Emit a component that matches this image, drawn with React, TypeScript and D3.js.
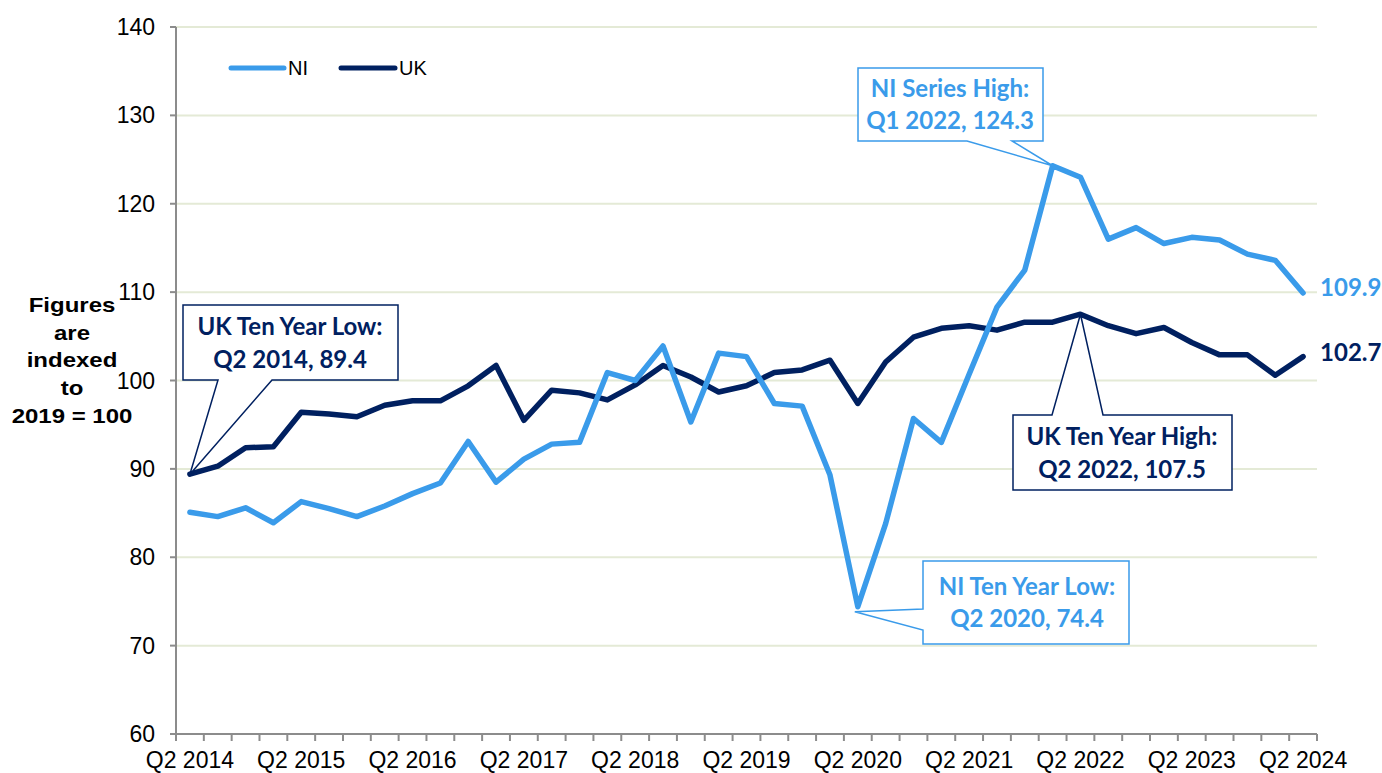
import React from "react";
import * as d3 from "d3";

const quarters = [
  "Q2 2014","Q3 2014","Q4 2014","Q1 2015","Q2 2015","Q3 2015","Q4 2015","Q1 2016",
  "Q2 2016","Q3 2016","Q4 2016","Q1 2017","Q2 2017","Q3 2017","Q4 2017","Q1 2018",
  "Q2 2018","Q3 2018","Q4 2018","Q1 2019","Q2 2019","Q3 2019","Q4 2019","Q1 2020",
  "Q2 2020","Q3 2020","Q4 2020","Q1 2021","Q2 2021","Q3 2021","Q4 2021","Q1 2022",
  "Q2 2022","Q3 2022","Q4 2022","Q1 2023","Q2 2023","Q3 2023","Q4 2023","Q1 2024",
  "Q2 2024",
];

const niValues = [
  85.1, 84.6, 85.6, 83.9, 86.3, 85.5, 84.6, 85.8,
  87.2, 88.4, 93.1, 88.5, 91.1, 92.8, 93.0, 100.9,
  100.0, 103.9, 95.3, 103.1, 102.7, 97.4, 97.1, 89.3,
  74.4, 83.8, 95.7, 93.0, 100.7, 108.3, 112.5, 124.3,
  123.0, 116.0, 117.3, 115.5, 116.2, 115.9, 114.3, 113.6,
  109.9,
];

const ukValues = [
  89.4, 90.3, 92.4, 92.5, 96.4, 96.2, 95.9, 97.2,
  97.7, 97.7, 99.4, 101.7, 95.5, 98.9, 98.6, 97.8,
  99.5, 101.7, 100.4, 98.7, 99.4, 100.9, 101.2, 102.3,
  97.4, 102.1, 104.9, 105.9, 106.2, 105.7, 106.6, 106.6,
  107.5, 106.2, 105.3, 106.0, 104.3, 102.9, 102.9, 100.6,
  102.7,
];

const yTicks = [60, 70, 80, 90, 100, 110, 120, 130, 140];
const xLabelQuarters = ["Q2 2014","Q2 2015","Q2 2016","Q2 2017","Q2 2018","Q2 2019","Q2 2020","Q2 2021","Q2 2022","Q2 2023","Q2 2024"];
const yTitleLines = ["Figures", "are", "indexed", "to", "2019 = 100"];

const NI_COLOR = "#3A9BEA";
const UK_COLOR = "#002060";
const GRID = "#E4EAD6";
const AXIS = "#8C8C8C";

export default function App() {
  const W = 1382, H = 773;
  const left = 176, right = 1317, top = 27, bottom = 734;

  const x = d3.scaleBand<string>().domain(quarters).range([left, right]).padding(0);
  const y = d3.scaleLinear().domain([60, 140]).range([bottom, top]);
  const cx = (q: string) => (x(q) as number) + x.bandwidth() / 2;

  const lineGen = d3
    .line<number>()
    .x((_, i) => cx(quarters[i]))
    .y((d) => y(d));

  const tickXs = quarters.map((q) => x(q) as number).concat([right]);

  const bodyFont = "'Liberation Sans', Arial, sans-serif";
  const calloutFont = "Lato, 'Open Sans', sans-serif";
  const cfs = 24;

  const tipUKLow = [cx("Q2 2014"), y(89.4)];
  const tipNIHigh = [cx("Q1 2022"), y(124.3)];
  const tipNILow = [cx("Q2 2020") - 3, y(74.4) + 5];
  const tipUKHigh = [cx("Q2 2022"), y(107.5)];

  const pUKLow = `M183,305 H398 V380 H272 L${tipUKLow[0]},${tipUKLow[1]} L218,380 H183 Z`;
  const pNIHigh = `M858,68 H1043 V141 H1012 L${tipNIHigh[0]},${tipNIHigh[1]} L967,141 H858 Z`;
  const pNILow = `M923,561 H1129 V644 H923 V630 L${tipNILow[0]},${tipNILow[1]} L923,609 Z`;
  const pUKHigh = `M1013,415 H1052 L${tipUKHigh[0]},${tipUKHigh[1]} L1103,415 H1232 V490 H1013 Z`;

  const lastNI = niValues[niValues.length - 1];
  const lastUK = ukValues[ukValues.length - 1];
  const lastX = cx(quarters[quarters.length - 1]);

  const callText = (tx: number, ty: number, s: string, color: string) => (
    <text x={tx} y={ty} textAnchor="middle" fontFamily={calloutFont} fontWeight={700} fontSize={cfs} fill={color}>
      {s}
    </text>
  );

  return (
    <svg
      width={W}
      height={H}
      style={{ position: "absolute", left: 0, top: 0, background: "#fff" }}
    >
      {yTicks.filter((t) => t !== 60).map((t) => (
        <line key={"g" + t} x1={left} x2={right} y1={y(t)} y2={y(t)} stroke={GRID} strokeWidth={2} />
      ))}

      <line x1={left} x2={left} y1={top} y2={bottom} stroke={AXIS} strokeWidth={2} />
      {yTicks.map((t) => (
        <g key={"yt" + t}>
          <line x1={left - 6} x2={left} y1={y(t)} y2={y(t)} stroke={AXIS} strokeWidth={2} />
          <text x={155} y={y(t) + 8} textAnchor="end" fontFamily={bodyFont} fontSize={23} fill="#000">
            {t}
          </text>
        </g>
      ))}

      <line x1={left} x2={right} y1={bottom} y2={bottom} stroke={AXIS} strokeWidth={2} />
      {tickXs.map((tx, i) => (
        <line key={"xt" + i} x1={tx} x2={tx} y1={bottom} y2={bottom + 7} stroke={AXIS} strokeWidth={2} />
      ))}
      {xLabelQuarters.map((q) => (
        <text key={"xl" + q} x={cx(q)} y={768} textAnchor="middle" fontFamily={bodyFont} fontSize={23} fill="#000">
          {q}
        </text>
      ))}

      {yTitleLines.map((l, i) => (
        <text
          key={"yl" + i}
          transform={`translate(72,${312 + i * 27.7}) scale(1.17,1)`}
          textAnchor="middle"
          fontFamily={bodyFont}
          fontWeight="bold"
          fontSize={20.5}
          fill="#000"
        >
          {l}
        </text>
      ))}

      <line x1={231} x2={284} y1={68} y2={68} stroke={NI_COLOR} strokeWidth={5} strokeLinecap="round" />
      <text x={288} y={75} fontFamily={bodyFont} fontSize={20} fill="#000">NI</text>
      <line x1={341} x2={395} y1={68} y2={68} stroke={UK_COLOR} strokeWidth={5} strokeLinecap="round" />
      <text x={399} y={75} fontFamily={bodyFont} fontSize={20} fill="#000">UK</text>

      <path d={lineGen(ukValues) as string} fill="none" stroke={UK_COLOR} strokeWidth={5.5} strokeLinejoin="round" strokeLinecap="round" />
      <path d={lineGen(niValues) as string} fill="none" stroke={NI_COLOR} strokeWidth={5.5} strokeLinejoin="round" strokeLinecap="round" />

      <text x={lastX + 17} y={y(lastNI) + 3} fontFamily={calloutFont} fontWeight={700} fontSize={24} fill={NI_COLOR}>
        {lastNI.toFixed(1)}
      </text>
      <text x={lastX + 17} y={y(lastUK) + 4} fontFamily={calloutFont} fontWeight={700} fontSize={24} fill={UK_COLOR}>
        {lastUK.toFixed(1)}
      </text>

      <path d={pUKLow} fill="#fff" stroke={UK_COLOR} strokeWidth={1.5} />
      {callText(290, 335, "UK Ten Year Low:", UK_COLOR)}
      {callText(290, 368, "Q2 2014, 89.4", UK_COLOR)}

      <path d={pNIHigh} fill="#fff" stroke={NI_COLOR} strokeWidth={1.5} />
      {callText(950, 97, "NI Series High:", NI_COLOR)}
      {callText(950, 129, "Q1 2022, 124.3", NI_COLOR)}

      <path d={pNILow} fill="#fff" stroke={NI_COLOR} strokeWidth={1.5} />
      {callText(1027, 595, "NI Ten Year Low:", NI_COLOR)}
      {callText(1027, 627, "Q2 2020, 74.4", NI_COLOR)}

      <path d={pUKHigh} fill="#fff" stroke={UK_COLOR} strokeWidth={1.5} />
      {callText(1122, 445, "UK Ten Year High:", UK_COLOR)}
      {callText(1122, 478, "Q2 2022, 107.5", UK_COLOR)}
    </svg>
  );
}
